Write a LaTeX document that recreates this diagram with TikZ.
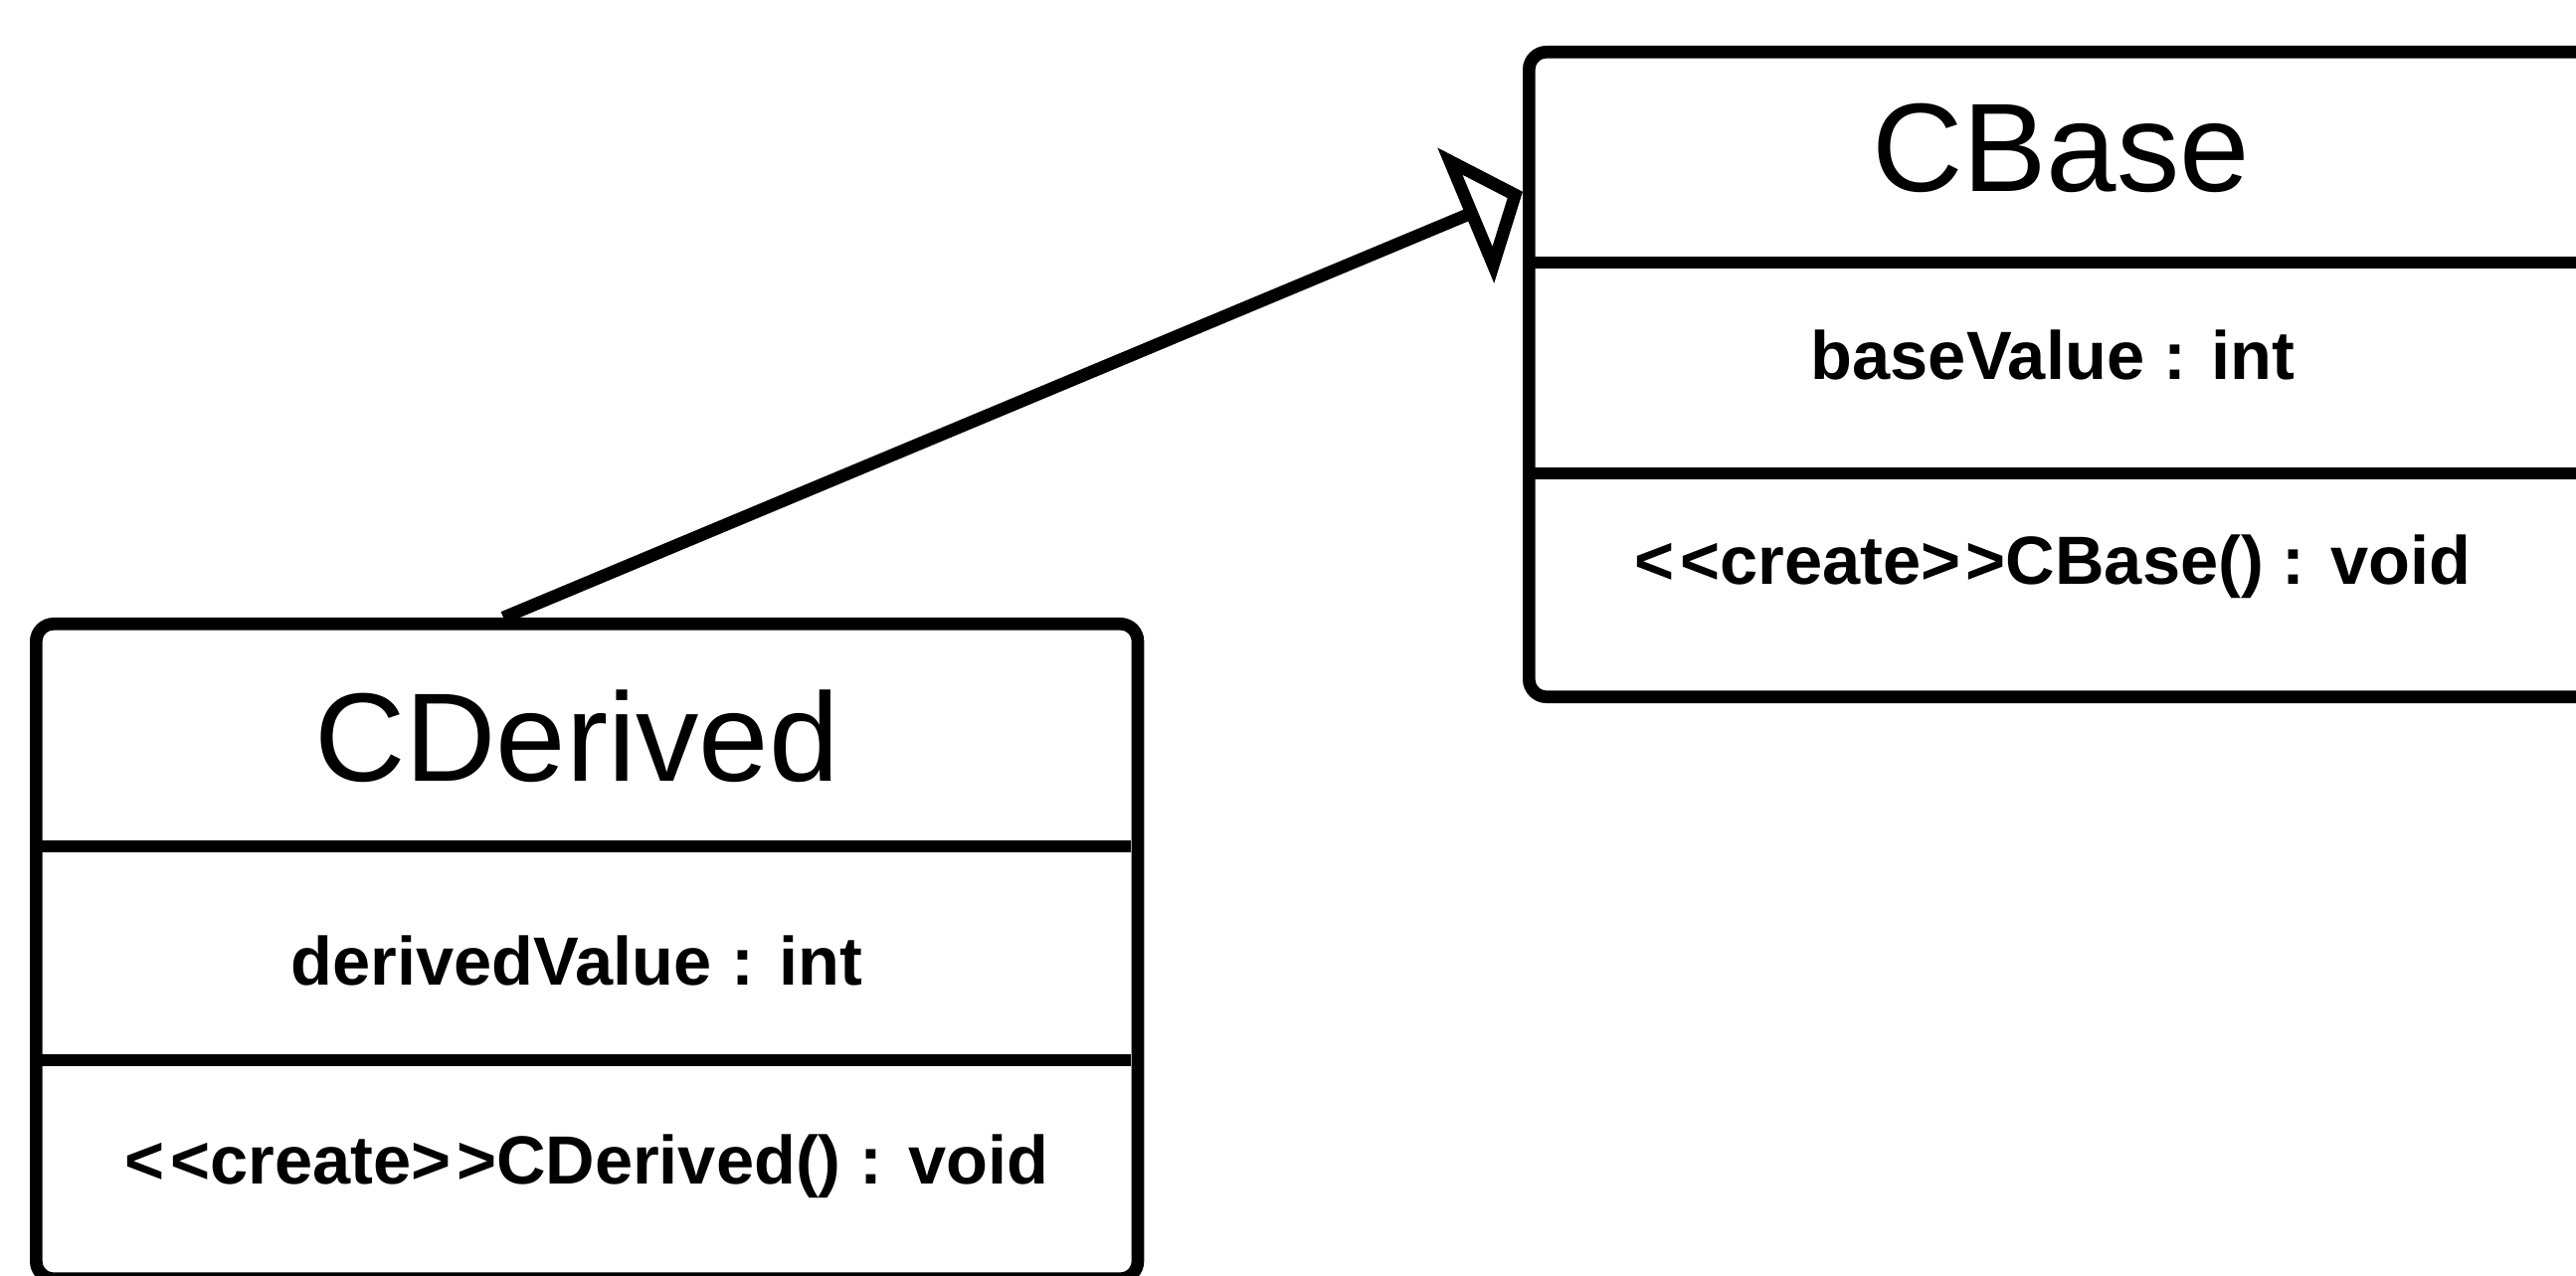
\documentclass[tikz,border=0pt]{standalone}
\usepackage{fontspec}
\setmainfont[Ligatures=NoCommon]{Liberation Sans}
\usetikzlibrary{arrows.meta,calc}
\newcommand{\stereo}[1]{{<}\kern0.08em{<}#1{>}\kern0.08em{>}}
\begin{document}
\begin{tikzpicture}[x=0.01cm,y=-0.01cm,
  classbox/.style={draw=black, line width=3.6pt, rounded corners=5pt, fill=white, inner sep=0pt, anchor=north west},
  sepline/.style={line width=3.4pt},
  classname/.style={font=\fontsize{36}{40}\selectfont, inner sep=0pt},
  member/.style={font=\bfseries\fontsize{19.5}{23}\selectfont, inner sep=0pt},
  inherit/.style={line width=3.6pt, -{Triangle[open, length=0.62cm, width=1.45cm]}}]
\fill[white] (0,0) rectangle (2590,1283);
\useasboundingbox (0,0) rectangle (2590,1283);
\clip (0,0) rectangle (2590,1283);
% CBase
\node[classbox, minimum width=10.79cm, minimum height=6.48cm] (base) at (1531,46) {};
\draw[sepline] (1531,264) -- (2610,264);
\draw[sepline] (1531,476) -- (2610,476);
\node[classname] (basetitle) at (2072,149) {CBase};
\node[member] (baseattr) at (2064,357) {baseValue : int};
\node[member] (baseop) at (2064,570) {\stereo{create}CBase() : void};
% CDerived
\node[classbox, minimum width=11.07cm, minimum height=6.58cm] (der) at (30,621) {};
\draw[sepline] (30,851) -- (1137,851);
\draw[sepline] (30,1066) -- (1137,1066);
\node[classname] (dertitle) at (580,740) {CDerived};
\node[member] (derattr) at (580,966) {derivedValue : int};
\node[member] (derop) at (590,1173) {\stereo{create}CDerived() : void};
% inheritance
\draw[inherit] ($(der.north west)!0.425!(der.north east)$) -- ($(base.north west)!0.222!(base.south west)$);
\end{tikzpicture}
\end{document}
